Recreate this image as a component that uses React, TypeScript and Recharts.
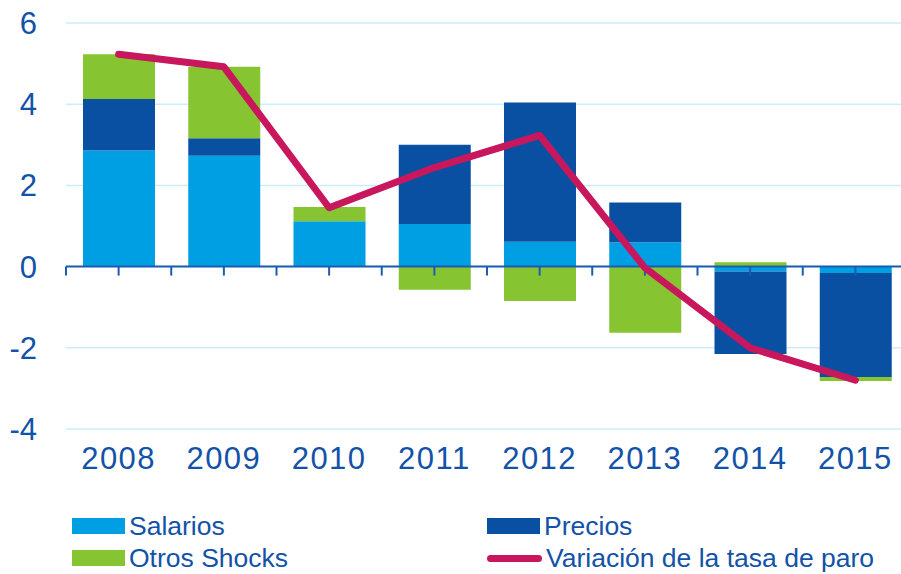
import React from "react";
import {
  ComposedChart,
  Bar,
  Line,
  XAxis,
  YAxis,
  CartesianGrid,
  ReferenceLine,
} from "recharts";

const years = ["2008", "2009", "2010", "2011", "2012", "2013", "2014", "2015"];
const salarios = [2.86, 2.73, 1.12, 1.05, 0.61, 0.6, -0.12, -0.16];
const precios = [1.27, 0.43, 0, 1.95, 3.43, 0.98, -2.03, -2.56];
const otrosShocks = [1.1, 1.76, 0.35, -0.57, -0.85, -1.63, 0.11, -0.1];
const tasaParo = [5.23, 4.92, 1.45, 2.44, 3.23, -0.03, -2.0, -2.8];
const yTicks = [-4, -2, 0, 2, 4, 6];

const seriesNames = {
  salarios: "Salarios",
  precios: "Precios",
  otros: "Otros Shocks",
  paro: "Variación de la tasa de paro",
};

const COLORS = {
  salarios: "#009fe3",
  precios: "#0a50a2",
  otros: "#86c531",
  paro: "#c8175c",
  text: "#1252a8",
  grid: "#cbedfb",
  axis: "#1a5caf",
};

const data = years.map((year, i) => ({
  year,
  salarios: salarios[i],
  precios: precios[i],
  otros: otrosShocks[i],
  paro: tasaParo[i],
}));

const FONT = "'Liberation Sans', Arial, sans-serif";

const ZeroAxis = (props: any) => {
  const { x1, y1, x2, y2 } = props;
  if ([x1, y1, x2, y2].some((v) => typeof v !== "number" || isNaN(v))) return null;
  const n = years.length * 2;
  const step = (x2 - x1) / n;
  const ticks = Array.from({ length: n + 1 }, (_, i) => x1 + i * step);
  return (
    <g>
      <line x1={x1} y1={y1} x2={x2} y2={y2} stroke={COLORS.axis} strokeWidth={2} />
      {ticks.map((tx, i) => (
        <line key={i} x1={tx} y1={y1} x2={tx} y2={y1 + 9} stroke={COLORS.axis} strokeWidth={2} />
      ))}
    </g>
  );
};

const legendItems = [
  { key: "salarios", type: "rect" },
  { key: "precios", type: "rect" },
  { key: "otros", type: "rect" },
  { key: "paro", type: "line" },
];

export default function App() {
  return (
    <div
      style={{
        position: "absolute",
        left: 0,
        top: 0,
        width: 901,
        height: 574,
        overflow: "hidden",
        background: "#fff",
        fontFamily: FONT,
      }}
    >
      <ComposedChart
        width={910}
        height={480}
        data={data}
        stackOffset="sign"
        margin={{ top: 23, right: 2, bottom: 0, left: 0 }}
      >
        <CartesianGrid vertical={false} stroke={COLORS.grid} strokeWidth={1.5} />
        <XAxis
          dataKey="year"
          axisLine={false}
          tickLine={false}
          tickSize={0}
          tickMargin={18}
          height={51}
          interval={0}
          tick={{ fill: COLORS.text, fontSize: 31, fontFamily: FONT, letterSpacing: 1.5 }}
        />
        <YAxis
          domain={[-4, 6]}
          ticks={yTicks}
          axisLine={false}
          tickLine={false}
          tickSize={0}
          tickMargin={29}
          width={66}
          interval={0}
          tick={{ fill: COLORS.text, fontSize: 31, fontFamily: FONT }}
        />
        <Bar dataKey="salarios" name={seriesNames.salarios} stackId="a" fill={COLORS.salarios} barSize={72} isAnimationActive={false} />
        <Bar dataKey="precios" name={seriesNames.precios} stackId="a" fill={COLORS.precios} barSize={72} isAnimationActive={false} />
        <Bar dataKey="otros" name={seriesNames.otros} stackId="a" fill={COLORS.otros} barSize={72} isAnimationActive={false} />
        <ReferenceLine y={0} shape={<ZeroAxis />} />
        <Line
          dataKey="paro"
          name={seriesNames.paro}
          stroke={COLORS.paro}
          strokeWidth={7}
          dot={false}
          activeDot={false}
          strokeLinecap="round"
          strokeLinejoin="round"
          isAnimationActive={false}
        />
      </ComposedChart>
      <div
        style={{
          position: "absolute",
          left: 72,
          top: 513,
          width: 830,
          display: "grid",
          gridTemplateColumns: "415px 415px",
          rowGap: 6,
        }}
      >
        {legendItems.map((item) => (
          <div key={item.key} style={{ display: "flex", alignItems: "center", height: 26 }}>
            {item.type === "rect" ? (
              <div style={{ width: 53, height: 16, background: (COLORS as any)[item.key] }} />
            ) : (
              <div style={{ width: 55, height: 7, borderRadius: 3.5, background: (COLORS as any)[item.key] }} />
            )}
            <span
              style={{
                marginLeft: 4,
                fontSize: 26.5,
                color: COLORS.text,
                fontFamily: FONT,
                lineHeight: "26px",
                whiteSpace: "nowrap",
              }}
            >
              {(seriesNames as any)[item.key]}
            </span>
          </div>
        ))}
      </div>
    </div>
  );
}
